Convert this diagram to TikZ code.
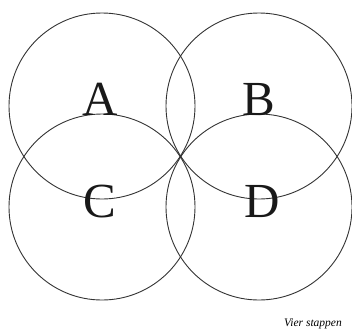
\documentclass[tikz,border=0pt]{standalone}
\usepackage{fontspec}
\setmainfont{Liberation Serif}
\begin{document}
\begin{tikzpicture}[x=1pt,y=-1pt,
  ring/.style={draw=black!80, line width=0.9pt},
  letter/.style={font=\fontsize{49}{49}\selectfont, text=black!90, inner sep=0pt},
  caption/.style={font=\fontsize{11.5}{11.5}\selectfont\itshape, inner sep=0pt}]
\useasboundingbox (0,0) rectangle (352,333);
\node[ring, circle, minimum size=186pt, inner sep=0pt] (cA) at (102,106) {};
\node[ring, circle, minimum size=186pt, inner sep=0pt] (cB) at (259,106) {};
\node[ring, circle, minimum size=186pt, inner sep=0pt] (cC) at (102,207) {};
\node[ring, circle, minimum size=186pt, inner sep=0pt] (cD) at (259,207) {};
\node[letter, anchor=base] (A) at (100,115) {A};
\node[letter, anchor=base] (B) at (259,115) {B};
\node[letter, anchor=base] (C) at (100,217) {C};
\node[letter, anchor=base] (D) at (262,217) {D};
\node[caption, anchor=base east] (cap) at (342,326) {Vier stappen};
\end{tikzpicture}
\end{document}
